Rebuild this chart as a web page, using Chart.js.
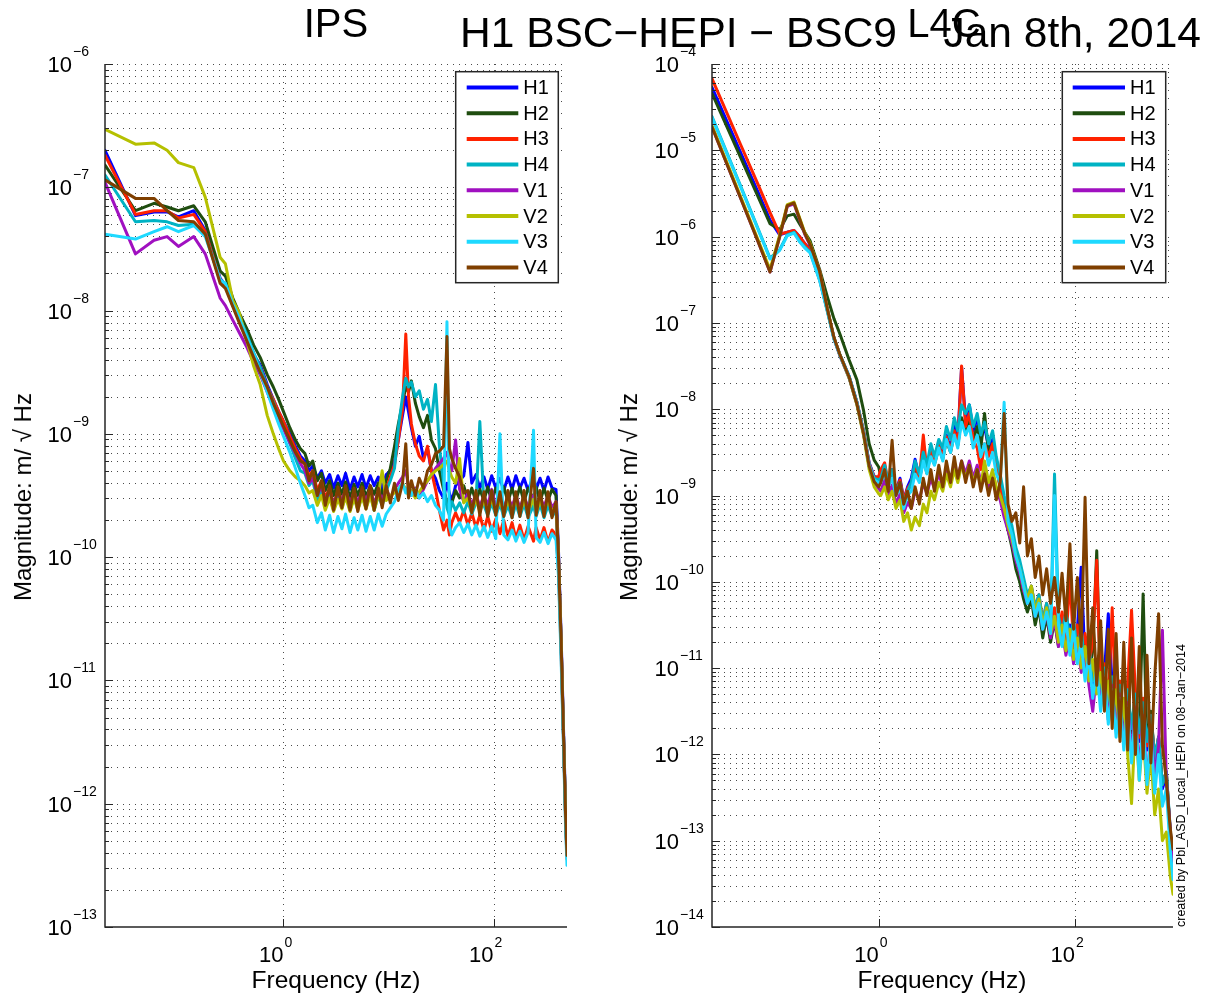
<!DOCTYPE html>
<html><head><meta charset="utf-8">
<script src="https://cdn.jsdelivr.net/npm/chart.js@4.4.1/dist/chart.umd.min.js"></script>
<style>
html,body{margin:0;padding:0;background:#fff;}
body{width:1207px;height:995px;position:relative;overflow:hidden;font-family:"Liberation Sans",Arial,sans-serif;color:#000;}
canvas{position:absolute;left:0;top:0;}
.t{position:absolute;white-space:pre;line-height:1;}
</style></head><body>
<canvas id="c1" width="1207" height="995"></canvas>
<canvas id="c2" width="1207" height="995"></canvas>
<div id="txt"></div>
<script>
// ---------- data ----------
const NAMES = ['H1','H2','H3','H4','V1','V2','V3','V4'];
const COLORS = ['#0000ff','#1f4d0f','#ff2200','#00b3c4','#a010c0','#b5c000','#1ed9ff','#7f3f00'];

const IPS_Y_EXP = [-13,-12,-11,-10,-9,-8,-7,-6];
const L4C_Y_EXP = [-14,-13,-12,-11,-10,-9,-8,-7,-6,-5,-4];
const X_EXP = [0,2];

// IPS frequencies (Hz)
const IPS_F = [0.02,0.039,0.0586,0.078,0.1,0.14,0.18,0.25,0.28,0.33,0.38,0.45,0.52,0.6,0.7,0.8,0.9,1.0,1.15,1.3,1.45,
1.6,1.75,1.9,2.1,2.3,2.5,2.75,3.0,3.3,3.6,
3.9,4.3,4.7,5.1,5.6,6.1,6.7,7.3,8.0,8.7,
9.5,10.4,11.4,12.4,13.6,14.6,15.5,16.5,18,19.6,
21.5,23.5,25.6,28,30.5,33.4,36,38,40,43.5,
47.5,52,57,62,68,74,81,88,96,105,
115,125,137,150,163,178,195,213,240,254,
277,302,330,360,393,415,440,465,485,500];

// IPS magnitudes, log10(m/sqrt(Hz))
const IPS_H1 = [-6.70,-7.23,-7.20,-7.20,-7.24,-7.19,-7.35,-7.74,-7.79,-7.96,-8.08,-8.22,-8.36,-8.44,-8.60,-8.72,-8.82,-8.90,-9.00,-9.10,-9.18,
-9.22,-9.30,-9.26,-9.36,-9.30,-9.40,-9.33,-9.44,-9.34,-9.42,
-9.32,-9.45,-9.35,-9.43,-9.33,-9.44,-9.34,-9.42,-9.35,-9.45,
-9.33,-9.30,-9.22,-9.05,-8.85,-8.70,-8.82,-8.95,-9.10,-9.02,
-9.20,-9.12,-9.30,-9.36,-9.46,-9.52,-9.40,-9.48,-9.55,-9.42,
-9.38,-9.34,-9.07,-9.40,-9.33,-9.44,-9.35,-9.45,-9.34,-9.44,
-9.36,-9.46,-9.35,-9.45,-9.34,-9.44,-9.36,-9.46,-9.34,-9.45,
-9.36,-9.46,-9.35,-9.44,-9.45,-9.95,-10.65,-11.45,-12.05,-12.40];
const IPS_H2 = [-6.82,-7.19,-7.13,-7.16,-7.19,-7.15,-7.28,-7.68,-7.72,-7.90,-8.02,-8.15,-8.28,-8.38,-8.52,-8.62,-8.72,-8.82,-8.95,-9.05,-9.12,
-9.16,-9.26,-9.22,-9.38,-9.32,-9.46,-9.38,-9.50,-9.40,-9.49,
-9.39,-9.52,-9.41,-9.50,-9.40,-9.51,-9.42,-9.49,-9.40,-9.50,
-9.38,-9.28,-9.10,-8.92,-8.75,-8.62,-8.66,-8.57,-8.75,-8.86,
-8.95,-8.85,-9.05,-9.12,-9.30,-9.45,-9.55,-9.62,-9.56,-9.46,
-9.52,-9.42,-9.54,-9.44,-9.55,-9.45,-9.54,-9.43,-9.55,-9.44,
-9.53,-9.43,-9.55,-9.44,-9.54,-9.43,-9.55,-9.44,-9.53,-9.43,
-9.55,-9.44,-9.54,-9.45,-9.50,-10.00,-10.70,-11.50,-12.10,-12.42];
const IPS_H3 = [-6.74,-7.22,-7.19,-7.19,-7.25,-7.22,-7.36,-7.75,-7.80,-7.95,-8.08,-8.22,-8.36,-8.46,-8.62,-8.72,-8.82,-8.90,-9.02,-9.12,-9.20,
-9.25,-9.34,-9.30,-9.46,-9.38,-9.52,-9.44,-9.58,-9.46,-9.55,
-9.45,-9.58,-9.47,-9.57,-9.46,-9.56,-9.44,-9.58,-9.47,-9.55,
-9.45,-9.35,-9.25,-9.05,-8.80,-8.19,-8.70,-8.92,-9.08,-9.18,
-9.22,-9.10,-9.30,-9.45,-9.62,-9.78,-9.70,-9.82,-9.72,-9.64,
-9.72,-9.62,-9.74,-9.64,-9.76,-9.66,-9.78,-9.67,-9.79,-9.69,
-9.81,-9.70,-9.83,-9.72,-9.85,-9.74,-9.86,-9.75,-9.87,-9.76,
-9.86,-9.76,-9.88,-9.78,-9.82,-10.10,-10.80,-11.55,-12.15,-12.45];
const IPS_H4 = [-6.90,-7.28,-7.27,-7.28,-7.31,-7.30,-7.38,-7.76,-7.78,-7.94,-8.05,-8.20,-8.34,-8.46,-8.62,-8.74,-8.86,-8.95,-9.08,-9.20,-9.30,
-9.32,-9.42,-9.38,-9.54,-9.46,-9.60,-9.50,-9.62,-9.51,-9.60,
-9.49,-9.62,-9.51,-9.61,-9.50,-9.60,-9.48,-9.62,-9.50,-9.58,
-9.46,-9.38,-9.28,-8.95,-8.70,-8.55,-8.62,-8.58,-8.70,-8.65,
-8.80,-8.72,-8.90,-8.60,-9.10,-9.40,-9.60,-9.66,-9.55,-9.62,
-9.56,-9.64,-9.55,-9.65,-9.56,-8.90,-9.58,-9.66,-9.56,-9.66,
-9.57,-9.67,-9.58,-9.68,-9.57,-9.67,-9.57,-9.68,-9.58,-9.67,
-9.57,-9.68,-9.58,-9.67,-9.62,-10.05,-10.75,-11.50,-12.10,-12.42];
const IPS_V1 = [-6.96,-7.54,-7.43,-7.40,-7.48,-7.40,-7.54,-7.90,-7.96,-8.08,-8.18,-8.30,-8.42,-8.52,-8.66,-8.78,-8.88,-8.96,-9.07,-9.16,-9.24,
-9.30,-9.40,-9.36,-9.50,-9.42,-9.55,-9.46,-9.57,-9.47,-9.55,
-9.45,-9.57,-9.47,-9.56,-9.46,-9.55,-9.45,-9.57,-9.46,-9.54,
-9.45,-9.52,-9.45,-9.40,-9.35,-9.30,-9.42,-9.50,-9.44,-9.52,
-9.45,-9.38,-9.34,-9.28,-9.24,-9.20,-9.15,-9.25,-9.30,-9.05,
-9.45,-9.55,-9.48,-9.58,-9.49,-9.59,-9.50,-9.58,-9.45,-9.59,
-9.50,-9.60,-9.51,-9.59,-9.50,-9.60,-9.51,-9.59,-9.50,-9.60,
-9.51,-9.59,-9.50,-9.60,-9.55,-10.00,-10.70,-11.50,-12.10,-12.42];
const IPS_V2 = [-6.53,-6.65,-6.64,-6.70,-6.80,-6.84,-7.08,-7.57,-7.62,-7.92,-8.02,-8.25,-8.45,-8.60,-8.85,-9.00,-9.12,-9.22,-9.30,-9.35,-9.38,
-9.42,-9.48,-9.46,-9.58,-9.50,-9.62,-9.52,-9.63,-9.53,-9.61,
-9.51,-9.63,-9.52,-9.62,-9.51,-9.61,-9.50,-9.62,-9.50,-9.30,
-9.54,-9.50,-9.48,-9.45,-9.40,-9.45,-9.50,-9.46,-9.52,-9.47,
-9.42,-9.38,-9.33,-9.30,-9.28,-9.25,-9.22,-9.30,-9.35,-9.40,
-9.20,-9.56,-9.52,-9.62,-9.53,-9.63,-9.54,-9.62,-9.53,-9.63,
-9.54,-9.64,-9.54,-9.63,-9.53,-9.64,-9.54,-9.63,-9.53,-9.64,
-9.54,-9.63,-9.53,-9.64,-9.57,-10.00,-10.70,-11.50,-12.10,-12.42];
const IPS_V3 = [-7.38,-7.42,-7.36,-7.32,-7.36,-7.31,-7.40,-7.75,-7.78,-7.95,-8.06,-8.22,-8.35,-8.50,-8.66,-8.80,-8.92,-9.02,-9.15,-9.28,-9.40,
-9.50,-9.60,-9.58,-9.72,-9.64,-9.78,-9.66,-9.80,-9.67,-9.77,
-9.65,-9.80,-9.68,-9.78,-9.66,-9.79,-9.67,-9.78,-9.65,-9.75,
-9.65,-9.60,-9.55,-9.45,-9.40,-9.48,-9.42,-9.50,-9.45,-9.52,
-9.48,-9.55,-9.50,-9.58,-9.62,-9.70,-8.09,-9.75,-9.82,-9.76,
-9.72,-9.80,-9.73,-9.82,-9.74,-9.83,-9.75,-9.84,-9.75,-9.85,
-9.00,-9.82,-9.86,-9.78,-9.87,-9.79,-9.88,-9.80,-8.97,-9.84,
-9.88,-9.80,-9.89,-9.81,-9.86,-10.15,-10.85,-11.60,-12.20,-12.50];
const IPS_V4 = [-6.94,-7.09,-7.09,-7.19,-7.27,-7.28,-7.38,-7.78,-7.82,-7.97,-8.10,-8.25,-8.38,-8.50,-8.62,-8.75,-8.85,-8.94,-9.05,-9.15,-9.22,
-9.24,-9.38,-9.30,-9.50,-9.38,-9.58,-9.42,-9.62,-9.43,-9.60,
-9.42,-9.62,-9.44,-9.63,-9.43,-9.61,-9.42,-9.62,-9.44,-9.60,
-9.42,-9.56,-9.40,-9.54,-9.40,-9.08,-9.52,-9.38,-9.50,-9.36,
-9.44,-9.30,-9.25,-9.16,-9.14,-9.10,-8.21,-9.12,-9.20,-9.28,
-9.35,-9.48,-9.46,-9.64,-9.46,-9.66,-9.47,-9.67,-9.46,-9.66,
-9.47,-9.67,-9.46,-9.68,-9.47,-9.67,-9.46,-9.68,-9.28,-9.66,
-9.46,-9.67,-9.47,-9.68,-9.55,-10.00,-10.70,-11.50,-12.10,-12.42];

// L4C frequencies (Hz)
const L4C_F = [0.02,0.039,0.0586,0.078,0.098,0.117,0.137,0.156,0.176,0.2,0.25,0.3,0.35,0.4,0.5,0.6,0.7,0.8,0.9,1.0,
1.05,1.15,1.25,1.37,1.5,1.65,1.8,1.97,2.15,2.35,
2.6,2.85,3.1,3.4,3.7,4.1,4.5,4.9,5.4,5.9,
6.4,7.0,7.7,8.4,9.2,10.1,11,12,13.2,14.5,
15.8,17.3,19,20.8,22.8,25,27.4,30,32.8,36,
39.4,43,47,51.5,56.5,62,68,74,81,89,
97,106,116,127,139,152,167,183,200,219,
240,263,288,315,345,378,414,453,496,543,
595,651,713,780,855,936,1000];

const L4C_H1 = [-4.27,-5.02,-5.48,-5.81,-5.98,-5.95,-5.93,-6.00,-6.08,-6.15,-6.48,-6.85,-7.17,-7.36,-7.62,-7.92,-8.25,-8.62,-8.78,-8.80,
-8.75,-8.70,-8.85,-8.70,-8.95,-8.80,-9.05,-8.90,-8.80,-8.58,
-8.80,-8.55,-8.70,-8.45,-8.60,-8.40,-8.55,-8.30,-8.45,-8.20,
-8.35,-7.51,-8.15,-7.95,-8.25,-8.10,-8.35,-8.20,-8.45,-8.35,
-8.60,-8.85,-9.10,-9.25,-9.45,-9.70,-9.90,-10.15,-10.25,-10.10,
-10.35,-10.20,-10.50,-10.30,-10.60,-10.35,-10.65,-10.40,-10.70,-10.50,
-10.80,-10.55,-9.83,-10.95,-10.80,-11.20,-10.95,-11.35,-11.05,-10.37,
-11.20,-11.55,-11.25,-11.65,-11.30,-11.75,-11.35,-11.85,-11.45,-11.95,
-11.60,-12.10,-11.85,-12.40,-12.25,-12.90,-13.35];
const L4C_H2 = [-4.34,-5.08,-5.53,-5.85,-5.92,-5.76,-5.74,-5.85,-5.95,-6.05,-6.38,-6.70,-6.95,-7.12,-7.43,-7.66,-8.01,-8.40,-8.59,-8.67,
-8.78,-8.68,-8.88,-8.74,-8.98,-8.84,-9.08,-8.94,-8.88,-8.68,
-8.82,-8.58,-8.74,-8.50,-8.64,-8.45,-8.58,-8.36,-8.50,-8.28,
-8.42,-8.10,-8.25,-8.10,-8.35,-8.20,-8.45,-8.05,-8.50,-8.40,
-8.65,-8.92,-9.20,-9.40,-9.60,-9.85,-10.00,-10.20,-10.35,-10.20,
-10.50,-10.30,-10.65,-10.40,-10.70,-10.45,-10.75,-10.50,-10.80,-10.55,
-10.85,-10.60,-10.95,-10.70,-11.05,-10.80,-9.64,-11.30,-11.00,-11.45,
-11.10,-11.55,-11.20,-11.65,-11.25,-11.75,-11.30,-11.80,-10.14,-11.90,
-11.50,-12.05,-11.80,-12.35,-12.20,-12.90,-13.30];
const L4C_H3 = [-4.17,-4.93,-5.39,-5.72,-5.97,-5.95,-5.93,-6.00,-6.08,-6.16,-6.50,-6.86,-7.18,-7.37,-7.63,-7.92,-8.25,-8.63,-8.79,-8.78,
-8.70,-8.62,-8.85,-8.72,-8.95,-8.82,-9.05,-8.92,-8.85,-8.65,
-8.80,-8.30,-8.72,-8.48,-8.62,-8.42,-8.55,-8.32,-8.48,-8.25,
-8.40,-7.50,-8.20,-8.05,-8.35,-8.45,-8.70,-8.40,-8.55,-8.40,
-8.65,-8.90,-9.15,-9.30,-9.50,-9.70,-9.85,-10.10,-10.20,-10.05,
-10.30,-10.15,-10.45,-10.25,-10.55,-10.30,-10.60,-10.35,-10.70,-9.95,
-10.75,-10.50,-10.85,-10.60,-10.95,-10.70,-9.75,-11.25,-10.95,-11.40,
-10.30,-11.50,-11.15,-11.60,-11.20,-10.33,-11.30,-11.80,-11.35,-11.90,
-11.55,-12.05,-11.80,-12.35,-12.20,-12.90,-13.30];
const L4C_H4 = [-4.61,-5.41,-5.90,-6.25,-6.15,-5.98,-5.95,-6.05,-6.12,-6.18,-6.50,-6.86,-7.18,-7.36,-7.62,-7.92,-8.26,-8.64,-8.80,-8.82,
-8.80,-8.65,-8.85,-8.70,-8.95,-8.85,-9.10,-8.95,-8.85,-8.60,
-8.75,-8.50,-8.65,-8.40,-8.55,-8.35,-8.45,-8.20,-8.35,-8.10,
-8.25,-7.95,-8.05,-7.95,-8.20,-8.05,-8.30,-8.15,-8.40,-8.25,
-8.55,-8.75,-9.00,-9.20,-9.35,-9.60,-9.75,-9.95,-10.15,-10.05,
-10.30,-10.15,-10.45,-10.25,-10.50,-8.75,-10.40,-10.60,-10.35,-10.65,
-10.45,-10.80,-10.55,-11.00,-10.75,-11.15,-10.90,-11.30,-11.00,-11.45,
-11.10,-11.55,-11.20,-11.60,-11.25,-11.70,-11.30,-11.75,-11.40,-11.85,
-11.55,-12.05,-11.80,-12.35,-12.20,-12.85,-13.30];
const L4C_V1 = [-4.73,-5.55,-6.05,-6.41,-6.00,-5.65,-5.62,-5.80,-5.97,-6.10,-6.40,-6.84,-7.18,-7.37,-7.64,-7.94,-8.28,-8.66,-8.85,-8.92,
-8.95,-8.82,-9.00,-8.88,-9.10,-8.98,-9.20,-9.08,-9.15,-8.95,
-9.05,-8.85,-8.98,-8.80,-8.92,-8.75,-8.90,-8.70,-8.85,-8.65,
-8.80,-8.60,-8.75,-8.60,-8.80,-8.65,-8.85,-8.70,-8.90,-8.75,
-8.95,-9.05,-9.25,-9.40,-9.55,-9.75,-9.90,-10.10,-10.25,-10.10,
-10.40,-10.25,-10.55,-10.35,-10.65,-10.45,-10.75,-10.55,-10.85,-10.60,
-10.95,-10.70,-11.05,-10.80,-11.20,-11.50,-11.05,-11.40,-11.10,-11.60,
-11.20,-11.70,-11.30,-11.85,-11.40,-12.00,-11.45,-12.20,-11.55,-12.34,
-11.70,-12.25,-11.90,-10.56,-12.30,-12.85,-13.40];
const L4C_V2 = [-4.71,-5.53,-6.03,-6.38,-5.98,-5.63,-5.60,-5.78,-5.95,-6.08,-6.40,-6.84,-7.17,-7.36,-7.64,-7.95,-8.30,-8.70,-8.90,-8.98,
-9.00,-8.90,-9.05,-8.95,-9.15,-9.05,-9.30,-9.20,-9.40,-9.25,
-9.35,-9.10,-9.20,-8.95,-9.05,-8.85,-8.95,-8.75,-8.90,-8.70,
-8.85,-8.65,-8.80,-8.65,-8.85,-8.70,-8.90,-8.60,-8.85,-8.70,
-8.90,-9.00,-9.15,-9.35,-9.50,-9.70,-9.85,-10.05,-10.20,-10.05,
-10.35,-10.20,-10.50,-10.30,-10.60,-10.40,-10.70,-10.50,-10.80,-10.55,
-10.90,-10.65,-11.00,-10.75,-11.15,-10.90,-11.30,-11.05,-11.45,-11.15,
-11.60,-11.25,-11.80,-11.35,-12.00,-12.57,-11.60,-12.30,-11.75,-12.45,
-12.00,-12.70,-12.40,-13.00,-12.90,-13.40,-13.62];
const L4C_V3 = [-4.62,-5.42,-5.91,-6.26,-6.16,-5.99,-5.96,-6.06,-6.13,-6.19,-6.51,-6.87,-7.19,-7.37,-7.63,-7.93,-8.27,-8.65,-8.82,-8.85,
-8.85,-8.75,-8.90,-8.80,-9.00,-8.90,-9.15,-9.00,-8.95,-8.75,
-8.85,-8.60,-8.75,-8.55,-8.65,-8.45,-8.60,-8.35,-8.50,-8.30,
-8.45,-8.15,-8.30,-8.20,-8.45,-8.30,-8.55,-8.40,-8.65,-8.50,
-8.75,-8.85,-7.92,-9.30,-9.45,-9.70,-9.85,-10.05,-10.25,-10.15,
-10.40,-10.25,-10.55,-10.35,-10.60,-9.00,-10.50,-10.75,-10.45,-10.85,
-10.55,-10.95,-10.70,-11.15,-10.85,-11.35,-11.00,-11.50,-11.10,-11.65,
-11.25,-11.80,-11.35,-11.95,-11.45,-12.10,-11.50,-12.30,-11.60,-12.35,
-11.75,-12.45,-12.00,-12.60,-12.40,-13.10,-13.45];
const L4C_V4 = [-4.73,-5.55,-6.05,-6.41,-6.00,-5.64,-5.61,-5.79,-5.96,-6.09,-6.40,-6.84,-7.17,-7.36,-7.63,-7.94,-8.28,-8.66,-8.84,-8.90,
-8.85,-8.70,-8.95,-8.36,-9.00,-8.85,-9.10,-8.95,-9.15,-8.90,
-9.10,-8.80,-9.00,-8.70,-8.95,-8.65,-8.90,-8.60,-8.85,-8.55,
-8.80,-8.60,-8.85,-8.65,-8.90,-8.70,-8.95,-8.75,-9.00,-8.80,
-9.05,-8.85,-8.05,-9.10,-9.30,-9.20,-9.55,-8.90,-9.70,-9.50,
-9.95,-9.70,-10.15,-9.85,-10.25,-9.95,-10.35,-9.90,-10.45,-9.56,
-10.55,-9.95,-10.75,-9.02,-10.95,-10.30,-11.20,-10.45,-11.50,-10.55,
-11.70,-10.60,-11.85,-10.70,-11.95,-10.65,-12.00,-10.75,-12.05,-10.85,
-12.10,-11.10,-10.37,-11.90,-12.30,-12.85,-13.10];

const IPS_SERIES = [IPS_H1,IPS_H2,IPS_H3,IPS_H4,IPS_V1,IPS_V2,IPS_V3,IPS_V4];
const L4C_SERIES = [L4C_H1,L4C_H2,L4C_H3,L4C_H4,L4C_V1,L4C_V2,L4C_V3,L4C_V4];

// ---------- drawing helpers ----------
const FONT = '"Liberation Sans", Arial, sans-serif';
const MINUS = '\u2212';
function expStr(e){ return (e<0?MINUS:'') + Math.abs(e); }

const matlabPlugin = {
  id: 'matlab',
  beforeDatasetsDraw(chart, args, o) {
    const {ctx, chartArea:{left,right,top,bottom}, scales:{x,y}} = chart;
    ctx.save();
    ctx.strokeStyle = 'rgba(30,30,30,0.8)';
    ctx.lineWidth = 1;
    ctx.setLineDash([1,5]);
    const ye = o.yExp;
    for (let e = ye[0]; e <= ye[ye.length-1]; e++) {
      for (let m = 1; m < 10; m++) {
        if (e === ye[ye.length-1] && m > 1) break;
        const py = Math.round(y.getPixelForValue(m*Math.pow(10,e))) + 0.5;
        if (py >= bottom - 1) continue;
        ctx.beginPath(); ctx.moveTo(left, py); ctx.lineTo(right, py); ctx.stroke();
      }
    }
    o.xExp.forEach(e => {
      const px = Math.round(x.getPixelForValue(Math.pow(10,e))) + 0.5;
      ctx.beginPath(); ctx.moveTo(px, top); ctx.lineTo(px, bottom); ctx.stroke();
    });
    ctx.restore();
  },
  afterDatasetsDraw(chart, args, o) {
    const {ctx, chartArea:{left,right,top,bottom}, scales:{x,y}} = chart;
    ctx.save();
    ctx.strokeStyle = '#262626'; ctx.lineWidth = 1.5; ctx.setLineDash([]);
    ctx.beginPath(); ctx.moveTo(left, top); ctx.lineTo(left, bottom); ctx.lineTo(right, bottom); ctx.stroke();
    ctx.lineWidth = 1;
    const ye = o.yExp;
    for (let e = ye[0]; e <= ye[ye.length-1]; e++) {
      for (let m = 1; m < 10; m++) {
        if (e === ye[ye.length-1] && m > 1) break;
        const py = Math.round(y.getPixelForValue(m*Math.pow(10,e))) + 0.5;
        const len = m === 1 ? 8 : 4;
        ctx.beginPath(); ctx.moveTo(left, py); ctx.lineTo(left+len, py); ctx.stroke();
      }
    }
    o.xExp.forEach(e => {
      const px = Math.round(x.getPixelForValue(Math.pow(10,e))) + 0.5;
      ctx.beginPath(); ctx.moveTo(px, bottom); ctx.lineTo(px, bottom-8); ctx.stroke();
    });
    ctx.fillStyle = '#000';
    ye.forEach(e => {
      const py = y.getPixelForValue(Math.pow(10,e));
      ctx.font = '22px ' + FONT; ctx.textAlign = 'right'; ctx.textBaseline = 'alphabetic';
      ctx.fillText('10', left - 33, py + 8);
      ctx.font = '14px ' + FONT; ctx.textAlign = 'left';
      ctx.fillText(expStr(e), left - 32, py - 8);
    });
    o.xExp.forEach(e => {
      const px = x.getPixelForValue(Math.pow(10,e));
      ctx.font = '22px ' + FONT; const w1 = ctx.measureText('10').width;
      const sx = px - w1;
      ctx.textAlign = 'left'; ctx.textBaseline = 'alphabetic';
      ctx.fillText('10', sx, bottom + 35);
      ctx.font = '14px ' + FONT; ctx.fillText(expStr(e), sx + w1 + 1, bottom + 20);
    });
    const lg = o.legend;
    const bx = right - lg.dr, by = top + 7.7, bw = lg.w, bh = 211;
    ctx.fillStyle = '#fff'; ctx.fillRect(bx, by, bw, bh);
    ctx.strokeStyle = '#262626'; ctx.lineWidth = 1.5; ctx.strokeRect(bx, by, bw, bh);
    chart.data.datasets.forEach((ds, i) => {
      const cy = by + 15.8 + i*25.7;
      ctx.strokeStyle = ds.borderColor; ctx.lineWidth = 4;
      ctx.beginPath(); ctx.moveTo(bx + lg.l0, cy); ctx.lineTo(bx + lg.l1, cy); ctx.stroke();
      ctx.fillStyle = '#000'; ctx.font = '20px ' + FONT; ctx.textAlign = 'left'; ctx.textBaseline = 'middle';
      ctx.fillText(ds.label, bx + lg.tx, cy + 1);
    });
    ctx.restore();
  }
};

function makeChart(id, F, series, yExp, xmin, xmax, ymin, ymax, pad, legend) {
  return new Chart(document.getElementById(id), {
    type: 'line',
    data: {
      datasets: series.map((vals, i) => ({
        label: NAMES[i],
        data: F.map((f, k) => ({x: f, y: Math.pow(10, vals[k])})),
        borderColor: COLORS[i], backgroundColor: COLORS[i],
        borderWidth: 3, pointRadius: 0, tension: 0, fill: false,
        order: 7 - i, borderJoinStyle: 'round', borderCapStyle: 'round'
      }))
    },
    options: {
      responsive: false, animation: false, events: [],
      layout: { autoPadding: false, padding: pad },
      plugins: { legend: {display: false}, tooltip: {enabled: false},
        matlab: { yExp: yExp, xExp: X_EXP, legend: legend } },
      scales: {
        x: { type: 'logarithmic', min: xmin, max: xmax, display: false },
        y: { type: 'logarithmic', min: ymin, max: ymax, display: false }
      }
    },
    plugins: [matlabPlugin]
  });
}

makeChart('c1', IPS_F, IPS_SERIES, IPS_Y_EXP, 0.02, 500, 1e-13, 1e-6,
  {left: 105, top: 64, right: 1207 - 567, bottom: 995 - 927},
  {dr: 111.3, w: 102.6, l0: 11, l1: 62.6, tx: 67.6});
makeChart('c2', L4C_F, L4C_SERIES, L4C_Y_EXP, 0.02, 1000, 1e-14, 1e-4,
  {left: 712, top: 64, right: 1207 - 1173, bottom: 995 - 927},
  {dr: 110.7, w: 103.4, l0: 10.4, l1: 62.7, tx: 67.7});

// ---------- static text ----------
const TEXTS = [
  {t: 'IPS', x: 336, b: 37, s: 40, a: 'c'},
  {t: 'L4C', x: 944, b: 37, s: 40, a: 'c'},
  {t: 'H1 BSC\u2212HEPI \u2212 BSC9', x: 460, b: 48, s: 42.5, a: 'l'},
  {t: 'Jan 8th, 2014', x: 1201, b: 48, s: 42.5, a: 'r'},
  {t: 'Frequency (Hz)', x: 336, b: 989, s: 24.5, a: 'c'},
  {t: 'Frequency (Hz)', x: 942, b: 989, s: 24.5, a: 'c'}
];
const box = document.getElementById('txt');
TEXTS.forEach(d => {
  const el = document.createElement('div');
  el.className = 't'; el.textContent = d.t;
  el.style.fontSize = d.s + 'px';
  el.style.top = (d.b - 0.8465*d.s) + 'px';
  el.style.left = d.x + 'px';
  if (d.a === 'c') el.style.transform = 'translateX(-50%)';
  if (d.a === 'r') el.style.transform = 'translateX(-100%)';
  box.appendChild(el);
});
[23, 629].forEach(cx => {
  const el = document.createElement('div');
  el.className = 't'; el.textContent = 'Magnitude: m/ \u221A Hz';
  el.style.fontSize = '24px'; el.style.left = cx + 'px'; el.style.top = '497px';
  el.style.transform = 'translate(-50%,-50%) rotate(-90deg)';
  box.appendChild(el);
});
{
  const el = document.createElement('div');
  el.className = 't'; el.textContent = 'created by Pbl_ASD_Local_HEPI on 08\u2212Jan\u22122014';
  el.style.fontSize = '12.5px'; el.style.left = (1186 - 0.8465*12.5) + 'px'; el.style.top = '927px';
  el.style.transformOrigin = '0 0'; el.style.transform = 'rotate(-90deg)';
  box.appendChild(el);
}
</script>
</body></html>
